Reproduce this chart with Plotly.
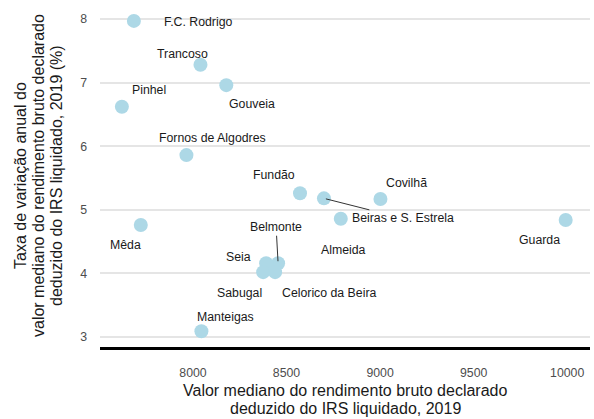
import plotly.graph_objects as go

municipios = ["F.C. Rodrigo", "Trancoso", "Gouveia", "Pinhel", "Fornos de Algodres",
              "Fundão", "Beiras e S. Estrela", "Covilhã", "Almeida", "Guarda", "Mêda",
              "Belmonte", "Seia", "Sabugal", "Celorico da Beira", "Manteigas"]
rendimento = [7684, 8040, 8178, 7620, 7965,
              8572, 8700, 9002, 8790, 9992, 7721,
              8455, 8391, 8375, 8439, 8045]
variacao = [7.97, 7.28, 6.96, 6.62, 5.86,
            5.26, 5.18, 5.17, 4.86, 4.84, 4.76,
            4.16, 4.16, 4.02, 4.02, 3.09]

# label offsets in pixels (ggrepel-like placement)
label_dx = [65, -18, 26, 27, 26, -26, 79, 26, 3, -26, -15, -2, -28, -24, 54, 24]
label_dy = [1, -11, 19, -17, -17, -18, 20, -16, 31, 20, 20, -36, -6, 21, 21, -14]
show_segment = [False] * 6 + [True] + [False] * 4 + [True] + [False] * 4

x_ticks = [8000, 8500, 9000, 9500, 10000]
y_ticks = [3, 4, 5, 6, 7, 8]

x_title_lines = ["Valor mediano do rendimento bruto declarado",
                 "deduzido do IRS liquidado, 2019"]
y_title_lines = ["Taxa de variação anual do",
                 "valor mediano do rendimento bruto declarado",
                 "deduzido do IRS liquidado, 2019 (%)"]

FONT = "Liberation Sans"

fig = go.Figure()
fig.add_trace(go.Scatter(
    x=rendimento, y=variacao, mode="markers",
    marker=dict(size=14, color="#ADD8E6", line=dict(width=0)),
    hoverinfo="text", text=municipios, showlegend=False,
))

for name, xv, yv, dx, dy, seg in zip(municipios, rendimento, variacao,
                                       label_dx, label_dy, show_segment):
    fig.add_annotation(
        x=xv, y=yv, xref="x", yref="y", text=name,
        ax=dx, ay=dy, axref="pixel", ayref="pixel",
        showarrow=True, arrowhead=0, arrowwidth=1,
        arrowcolor="#333333" if seg else "rgba(0,0,0,0)",
        standoff=2 if seg else 0, startstandoff=0,
        font=dict(family=FONT, size=12.3, color="#1a1a1a"),
    )

# axis titles, one annotation per line for tight line spacing
for i, line in enumerate(x_title_lines):
    fig.add_annotation(
        x=0.5, y=0, xref="paper", yref="paper", yshift=-43 - 18 * i,
        xanchor="center", yanchor="middle", text=line, showarrow=False,
        font=dict(family=FONT, size=16, color="#1a1a1a"),
    )
for i, line in enumerate(y_title_lines):
    fig.add_annotation(
        x=0, y=0.5, xref="paper", yref="paper", xshift=-80 + 18 * i,
        xanchor="center", yanchor="middle", text=line, textangle=-90, showarrow=False,
        font=dict(family=FONT, size=16, color="#1a1a1a"),
    )

fig.update_layout(
    width=594, height=419,
    margin=dict(l=100, r=4, t=5, b=72, autoexpand=False),
    plot_bgcolor="white", paper_bgcolor="white",
    font=dict(family=FONT),
    xaxis=dict(
        range=[7503, 10122], tickvals=x_ticks, ticktext=[str(v) for v in x_ticks],
        showgrid=False, zeroline=False, showline=True, linecolor="black", linewidth=3,
        ticks="", ticklabelstandoff=12, automargin=False,
        tickfont=dict(family=FONT, size=12.3, color="#4d4d4d"),
    ),
    yaxis=dict(
        range=[2.843, 8.22], tickvals=y_ticks,
        showgrid=True, gridcolor="#e5e5e5", gridwidth=1.5, zeroline=False, showline=False,
        ticks="", ticklabelstandoff=12, automargin=False,
        tickfont=dict(family=FONT, size=12.3, color="#4d4d4d"),
    ),
)

fig.write_html("out.html", config={"displayModeBar": False},
               post_script="document.body.style.margin='0';")
